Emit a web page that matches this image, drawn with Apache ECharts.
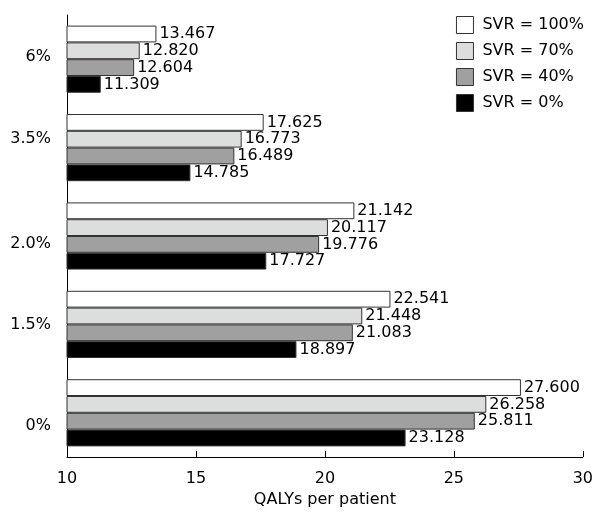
<!DOCTYPE html>
<html><head><meta charset="utf-8">
<script src="https://cdn.jsdelivr.net/npm/echarts@6/dist/echarts.min.js"></script>
<style>html,body{margin:0;padding:0;background:#fff}#c{width:596px;height:513px}</style>
</head><body><div id="c"></div>
<script>
var categories = ['0%', '1.5%', '2.0%', '3.5%', '6%'];
var seriesNames = ['SVR = 100%', 'SVR = 70%', 'SVR = 40%', 'SVR = 0%'];
var svr100 = [27.600, 22.541, 21.142, 17.625, 13.467];
var svr70 = [26.258, 21.448, 20.117, 16.773, 12.820];
var svr40 = [25.811, 21.083, 19.776, 16.489, 12.604];
var svr0 = [23.128, 18.897, 17.727, 14.785, 11.309];
var xTicks = [10, 15, 20, 25, 30];

var colors = ['#ffffff', '#dcdddd', '#a0a0a0', '#000000'];
var data = [svr100, svr70, svr40, svr0];
var font = 'DejaVu Sans';
// vertical nudges of the category labels as drawn in the reference (padding top, bottom)
var labelPads = [[26, 0], [0, 0], [16, 0], [0, 18], [0, 4]];
var rich = {};
labelPads.forEach(function (p, i) {
  rich['c' + i] = { fontFamily: font, fontSize: 16, color: '#000', padding: [p[0], 0, p[1], 0] };
});
var chart = echarts.init(document.getElementById('c'));
var series = seriesNames.map(function (n, i) {
  return {
    name: n, type: 'bar', data: data[i],
    barGap: '0%', barCategoryGap: '24%',
    itemStyle: { color: colors[i], borderColor: '#333', borderWidth: 1 },
    label: { show: true, position: 'right', distance: 3, color: '#000', fontFamily: font, fontSize: 16,
      formatter: function (p) { return p.value.toFixed(3); } }
  };
});
chart.setOption({
  animation: false,
  textStyle: { fontFamily: font },
  grid: { left: 67, right: 12, top: 15, bottom: 56 },
  legend: {
    orient: 'vertical', right: 7, top: 11, itemGap: 8, itemWidth: 17, itemHeight: 17,
    data: seriesNames, icon: 'rect',
    textStyle: { fontFamily: font, fontSize: 16, color: '#000', lineHeight: 17, padding: [0, 0, 0, 4] },
    itemStyle: { borderColor: '#333', borderWidth: 1 }
  },
  xAxis: {
    type: 'value', min: 10, max: 30, interval: 5,
    name: 'QALYs per patient', nameLocation: 'middle', nameGap: 35,
    nameTextStyle: { fontFamily: font, fontSize: 16, color: '#000' },
    axisLine: { show: true, lineStyle: { color: '#000' } },
    axisTick: { show: true, inside: true, length: 6, lineStyle: { color: '#000' } },
    axisLabel: { fontFamily: font, fontSize: 16, color: '#000', margin: 14,
      formatter: function (v) { return xTicks.indexOf(v) >= 0 ? String(v) : ''; } },
    splitLine: { show: false }
  },
  yAxis: {
    type: 'category', data: categories,
    axisLine: { show: true, lineStyle: { color: '#000' } },
    axisTick: { show: false },
    axisLabel: { margin: 16, rich: rich,
      formatter: function (v, i) { return '{c' + i + '|' + v + '}'; } }
  },
  series: series
});
</script></body></html>
